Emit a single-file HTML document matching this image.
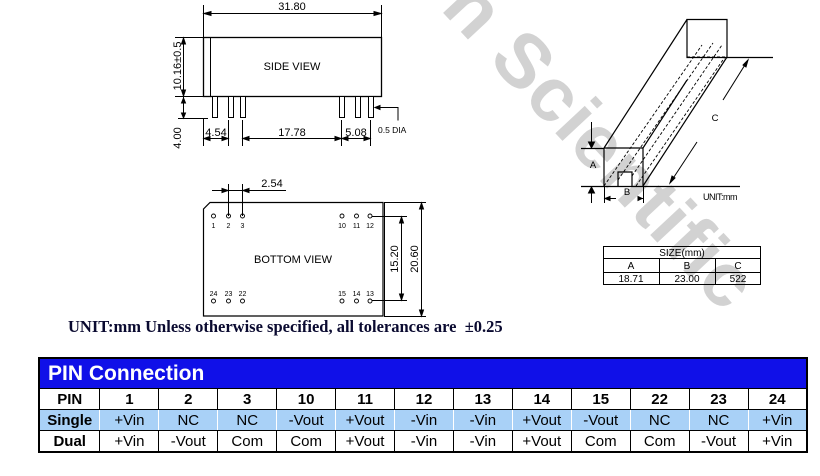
<!DOCTYPE html>
<html><head><meta charset="utf-8"><style>
body{margin:0;background:#fff;width:820px;height:476px;overflow:hidden;position:relative;font-family:"Liberation Sans",sans-serif}
svg{position:absolute;left:0;top:0}
.wm{position:absolute;left:490px;top:-38px;font:bold 76px "Liberation Sans",sans-serif;color:#d2d2d2;transform:rotate(47deg);transform-origin:0 0;white-space:nowrap;letter-spacing:1px}
.cap{position:absolute;left:68px;top:317px;font:bold 16.5px "Liberation Serif",serif;color:#0a0a30;white-space:nowrap}
table{position:absolute;left:38px;top:357px;width:770px;border-collapse:collapse;border:2px solid #000;font-size:15px;background:#fff}
td{border:1px solid #000;text-align:center;padding:0;height:20px;line-height:19px}
td.t{background:#1010e8;color:#fff;font-weight:bold;font-size:21px;text-align:left;padding-left:8px;height:29px;line-height:29px;border-bottom:1px solid #000}
tr.s td{background:#a9d1f7;border-color:#fff #fff #000 #fff}
tr.s td:first-child{border-left-color:#000}
tr.s td:last-child{border-right-color:#000}
.b td{font-weight:bold}
td.h{font-weight:bold}
</style></head><body>
<div class="wm">n Scientific</div>
<svg width="820" height="476" viewBox="0 0 820 476" font-family="Liberation Sans, sans-serif" fill="none" stroke="#000" stroke-width="1">
<!-- side view -->
<rect x="203.5" y="37.5" width="178" height="59" stroke-width="1.3" fill="#fff"/>
<line x1="210.5" y1="37" x2="210.5" y2="96"/>
<text x="292" y="70" font-size="11" fill="#000" stroke="none" text-anchor="middle">SIDE  VIEW</text>
<g fill="#fff">
<rect x="212.5" y="96.5" width="5" height="21"/><rect x="228.5" y="96.5" width="5" height="21"/><rect x="240.5" y="96.5" width="5" height="21"/>
<rect x="339.5" y="96.5" width="5" height="21"/><rect x="355.5" y="96.5" width="5" height="21"/><rect x="368.5" y="96.5" width="5" height="21"/>
</g>
<line x1="203.5" y1="5" x2="203.5" y2="37"/><line x1="381.5" y1="5" x2="381.5" y2="37"/>
<line x1="204" y1="13.5" x2="381" y2="13.5"/>
<path d="M204 13.5l7-2v4zM381 13.5l-7-2v4z" fill="#000"/>
<text x="292" y="10" font-size="11" fill="#000" stroke="none" text-anchor="middle">31.80</text>
<line x1="175" y1="37.5" x2="203" y2="37.5"/><line x1="175" y1="96.5" x2="203" y2="96.5"/><line x1="178" y1="118.5" x2="208" y2="118.5"/>
<line x1="183.5" y1="37" x2="183.5" y2="118"/>
<path d="M183.5 38l-2 6h4zM183.5 96l-2-6h4zM183.5 98l-2 5h4zM183.5 118l-2-5h4z" fill="#000"/>
<text transform="translate(181,66) rotate(-90)" font-size="11" fill="#000" stroke="none" text-anchor="middle">10.16±0.5</text>
<text transform="translate(181,138) rotate(-90)" font-size="11" fill="#000" stroke="none" text-anchor="middle">4.00</text>
<line x1="203.5" y1="118" x2="203.5" y2="146"/><line x1="228.5" y1="120" x2="228.5" y2="146"/>
<line x1="242.5" y1="120" x2="242.5" y2="146"/><line x1="341.5" y1="120" x2="341.5" y2="146"/><line x1="370.5" y1="120" x2="370.5" y2="146"/>
<line x1="204" y1="138.5" x2="228" y2="138.5"/><line x1="243" y1="138.5" x2="341" y2="138.5"/><line x1="342" y1="138.5" x2="370" y2="138.5"/>
<path d="M204 138.5l6-2v4zM228 138.5l-6-2v4zM243 138.5l6-2v4zM341 138.5l-6-2v4zM342 138.5l6-2v4zM370 138.5l-6-2v4z" fill="#000"/>
<text x="216" y="136" font-size="11" fill="#000" stroke="none" text-anchor="middle">4.54</text>
<text x="292" y="136" font-size="11" fill="#000" stroke="none" text-anchor="middle">17.78</text>
<text x="356" y="136" font-size="11" fill="#000" stroke="none" text-anchor="middle">5.08</text>
<path d="M375 107.5h23v13"/><path d="M375 107.5l5-2v4z" fill="#000"/>
<text x="378" y="133" font-size="8.5" fill="#000" stroke="none">0.5 DIA</text>
<!-- bottom view -->
<path d="M210 202.5h173v113.5h-179.5v-107z" stroke-width="1.2"/>
<line x1="384.5" y1="202" x2="384.5" y2="316"/>
<line x1="228.5" y1="184" x2="228.5" y2="216"/><line x1="242.5" y1="184" x2="242.5" y2="216"/>
<line x1="212" y1="190.5" x2="286" y2="190.5"/>
<path d="M228 190.5l-6-2v4zM243 190.5l6-2v4z" fill="#000"/>
<text x="272" y="187" font-size="11" fill="#000" stroke="none" text-anchor="middle">2.54</text>
<g stroke-width="0.9">
<circle cx="213.5" cy="216" r="2"/><circle cx="228.5" cy="216" r="2"/><circle cx="242.5" cy="216" r="2"/>
<circle cx="342" cy="216" r="2"/><circle cx="356.5" cy="216" r="2"/><circle cx="370" cy="216" r="2"/>
<circle cx="213.5" cy="301" r="2"/><circle cx="228.5" cy="301" r="2"/><circle cx="242.5" cy="301" r="2"/>
<circle cx="342" cy="301" r="2"/><circle cx="356.5" cy="301" r="2"/><circle cx="370" cy="301" r="2"/>
</g>
<g font-size="7" fill="#000" stroke="none" text-anchor="middle">
<text x="213.5" y="228">1</text><text x="228.5" y="228">2</text><text x="242.5" y="228">3</text>
<text x="342" y="228">10</text><text x="356.5" y="228">11</text><text x="370" y="228">12</text>
<text x="213.5" y="296">24</text><text x="228.5" y="296">23</text><text x="242.5" y="296">22</text>
<text x="342" y="296">15</text><text x="356.5" y="296">14</text><text x="370" y="296">13</text>
</g>
<text x="293" y="263" font-size="11" fill="#000" stroke="none" text-anchor="middle">BOTTOM  VIEW</text>
<line x1="372" y1="216.5" x2="407" y2="216.5"/><line x1="372" y1="300.5" x2="407" y2="300.5"/>
<line x1="384" y1="202.5" x2="426" y2="202.5"/><line x1="384" y1="316.5" x2="426" y2="316.5"/>
<line x1="401.5" y1="217" x2="401.5" y2="300"/><line x1="421.5" y1="203" x2="421.5" y2="316"/>
<path d="M401.5 217l-2 6h4zM401.5 300l-2-6h4zM421.5 203l-2 6h4zM421.5 316l-2-6h4z" fill="#000"/>
<text transform="translate(398,259) rotate(-90)" font-size="11" fill="#000" stroke="none" text-anchor="middle">15.20</text>
<text transform="translate(418,259) rotate(-90)" font-size="11" fill="#000" stroke="none" text-anchor="middle">20.60</text>
<!-- 3D tube -->
<g stroke-width="1.2">
<path d="M687 19.5h40v38h-40z"/>
<line x1="604" y1="148" x2="687" y2="19.5"/>
<line x1="643" y1="186" x2="727" y2="57"/>
<line x1="643" y1="148" x2="687" y2="80"/>
<path d="M604 148h39v38"/>
<line x1="604" y1="148" x2="604" y2="186"/>
<line x1="727" y1="57.5" x2="773" y2="57.5"/>
<line x1="581" y1="148.5" x2="604" y2="148.5"/>
<line x1="581" y1="186.5" x2="740" y2="186.5"/>
<path d="M618 186v-14h14v14"/>
</g>
<g stroke-dasharray="3,2" stroke-width="0.9">
<line x1="604" y1="186" x2="702" y2="45"/><line x1="618" y1="180" x2="713" y2="43"/>
<line x1="632" y1="176" x2="722" y2="45"/><line x1="636" y1="186" x2="725" y2="57"/>
<line x1="687" y1="57" x2="727" y2="57"/>
</g>
<line x1="670" y1="183" x2="697" y2="142"/><line x1="723" y1="100" x2="748" y2="60"/>
<path d="M670 183l2-7 3 2zM748 60l-2 7-3-2z" fill="#000"/>
<line x1="591.5" y1="122" x2="591.5" y2="148"/><line x1="591.5" y1="188" x2="591.5" y2="203"/>
<path d="M591.5 148l-3-6h6zM591.5 187l-3 6h6z" fill="#000"/>
<line x1="604.5" y1="186" x2="604.5" y2="203"/><line x1="643.5" y1="186" x2="643.5" y2="203"/>
<line x1="604" y1="198.5" x2="616" y2="198.5"/><path d="M605 198.5l5-2v4z" fill="#000"/>
<line x1="639" y1="198.5" x2="643" y2="198.5"/><path d="M642 198.5l-4-2v4z" fill="#000"/>
<g font-size="9.5" fill="#000" stroke="none" text-anchor="middle">
<text x="715" y="121">C</text><text x="593" y="168">A</text><text x="627" y="195">B</text>
<text x="720" y="200" font-size="9" letter-spacing="-0.5">UNIT:mm</text>
</g>
<!-- size table -->
<rect x="603.5" y="246.5" width="157" height="38"/>
<line x1="603" y1="258.5" x2="760" y2="258.5"/><line x1="603" y1="272.5" x2="760" y2="272.5"/>
<line x1="659.5" y1="258" x2="659.5" y2="285"/><line x1="715.5" y1="258" x2="715.5" y2="285"/>
<g font-size="10" fill="#000" stroke="none" text-anchor="middle">
<text x="682" y="256">SIZE(mm)</text>
<text x="631" y="269">A</text><text x="687" y="269">B</text><text x="738" y="269">C</text>
<text x="631" y="282">18.71</text><text x="687" y="282">23.00</text><text x="738" y="282">522</text>
</g>
</svg>
<div class="cap">UNIT:mm Unless otherwise specified, all tolerances are &nbsp;±0.25</div>
<table>
<colgroup><col style="width:61px"><col span="12" style="width:59px"></colgroup>
<tr><td class="t" colspan="13">PIN Connection</td></tr>
<tr class="b"><td>PIN</td><td>1</td><td>2</td><td>3</td><td>10</td><td>11</td><td>12</td><td>13</td><td>14</td><td>15</td><td>22</td><td>23</td><td>24</td></tr>
<tr class="s"><td class="h">Single</td><td>+Vin</td><td>NC</td><td>NC</td><td>-Vout</td><td>+Vout</td><td>-Vin</td><td>-Vin</td><td>+Vout</td><td>-Vout</td><td>NC</td><td>NC</td><td>+Vin</td></tr>
<tr><td class="h">Dual</td><td>+Vin</td><td>-Vout</td><td>Com</td><td>Com</td><td>+Vout</td><td>-Vin</td><td>-Vin</td><td>+Vout</td><td>Com</td><td>Com</td><td>-Vout</td><td>+Vin</td></tr>
</table>
</body></html>
